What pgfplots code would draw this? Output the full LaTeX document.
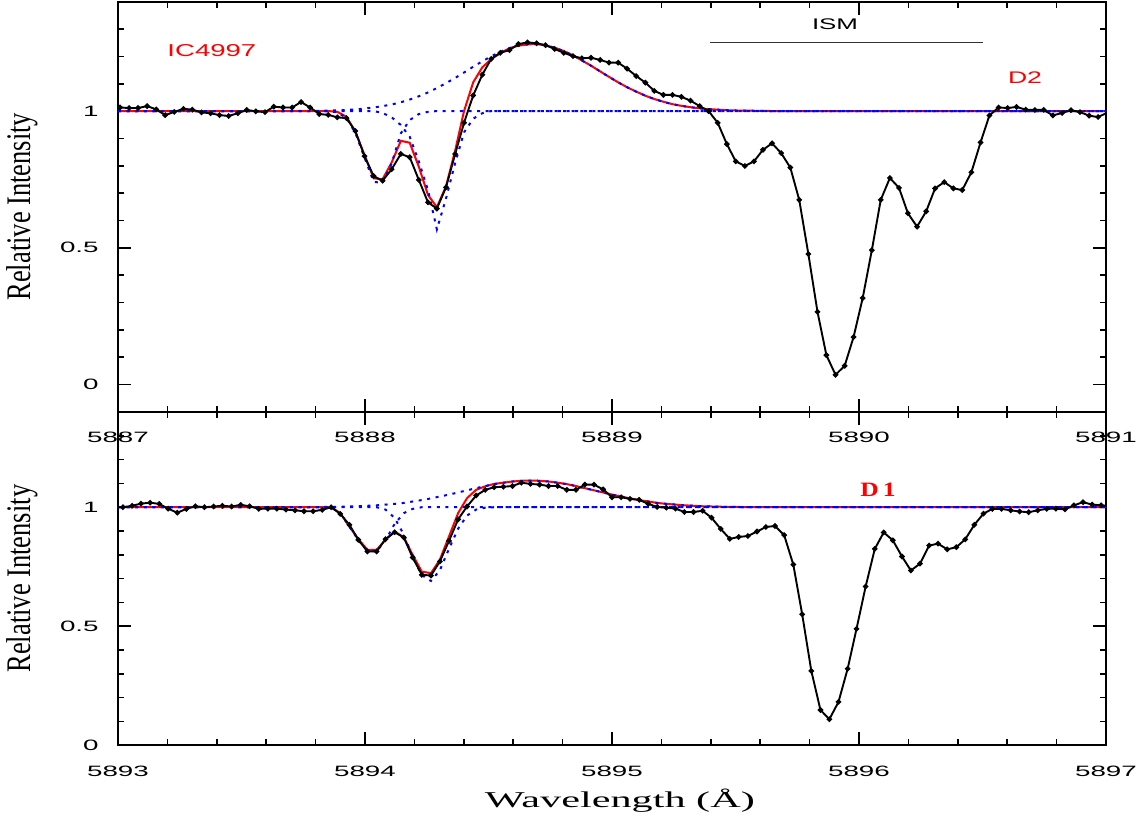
\documentclass[border=0pt]{standalone}
\usepackage{pgfplots}
\pgfplotsset{compat=1.18}
\usepackage{fontspec}
\setmainfont{Liberation Serif}
\newfontfamily\lsans{Liberation Sans}
\newcommand\tl[1]{\scalebox{1.85}[1]{\lsans\fontsize{7.5}{9}\selectfont #1}}
\pgfplotsset{
  panel/.style={
    scale only axis, width=494pt, anchor=north west,
    axis line style={line width=1pt},
    tick style={black, line width=0.8pt},
    tick align=inside,
    major tick length=6.5pt, minor tick length=3pt,
    ytick={0,0.5,1}, yticklabels={\tl{0},\tl{0.5},\tl{1}},
    minor ytick={-0.1,0.1,0.2,0.3,0.4,0.6,0.7,0.8,0.9,1.1,1.2,1.3},
    xticklabel style={anchor=center, inner sep=0pt, yshift=-13pt},
    yticklabel style={anchor=east, inner sep=0pt, xshift=-9.5pt},
    ylabel={\scalebox{1}[1.3]{\fontsize{13.25}{15}\selectfont Relative Intensity}},
    every axis y label/.style={at={(axis description cs:-0.0972,0.5)}, rotate=90, anchor=center},
    clip=true,
  },
  dat/.style={black, line width=0.95pt, mark=*, mark size=0.85pt, mark options={solid}},
  fit/.style={red, line width=1pt},
  comp/.style={blue, line width=1pt, dash pattern=on 1.5pt off 2.8pt},
}
\begin{document}
\begin{tikzpicture}
\useasboundingbox (-59pt,-408pt) rectangle (514pt,0pt);
% ---------------- top panel (D2) ----------------
\begin{axis}[panel, at={(0pt,-0.85pt)}, height=205pt,
  xmin=5887, xmax=5891, ymin=-0.1, ymax=1.4,
  xtick={5887,5888,5889,5890,5891},
  xticklabels={\tl{5887},\tl{5888},\tl{5889},\tl{5890},\tl{5891}},
  minor xtick={5887.2,5887.4,5887.6,5887.8,5888.2,5888.4,5888.6,5888.8,5889.2,5889.4,5889.6,5889.8,5890.2,5890.4,5890.6,5890.8},
]
% total fit
\addplot[fit] coordinates {
(5887,1) (5887.851,1.000) (5887.888,0.997) (5887.925,0.979) (5887.961,0.924) (5887.998,0.839)
(5888.035,0.754) (5888.071,0.750) (5888.108,0.812) (5888.145,0.891) (5888.181,0.884) (5888.218,0.796)
(5888.255,0.693) (5888.291,0.648) (5888.328,0.725) (5888.365,0.855) (5888.401,1.000) (5888.438,1.105)
(5888.475,1.160) (5888.511,1.190) (5888.548,1.212) (5888.585,1.230) (5888.621,1.239) (5888.658,1.244)
(5888.695,1.245) (5888.731,1.240) (5888.768,1.232) (5888.805,1.219) (5888.842,1.204) (5888.878,1.185)
(5888.915,1.166) (5888.952,1.145) (5888.988,1.125) (5889.025,1.105) (5889.061,1.087) (5889.098,1.071)
(5889.135,1.056) (5889.171,1.044) (5889.208,1.034) (5889.245,1.025) (5889.281,1.019) (5889.318,1.014)
(5889.355,1.010) (5889.391,1.007) (5889.428,1.005) (5889.465,1.003) (5889.501,1.002) (5889.575,1.001)
(5889.648,1.000) (5891,1)
};
% emission component
\addplot[comp] coordinates {
(5887,1) (5887.668,1.000) (5887.741,1.0005) (5887.815,1.001) (5887.888,1.003) (5887.925,1.004)
(5887.961,1.006) (5887.998,1.009) (5888.035,1.013) (5888.071,1.018) (5888.108,1.024) (5888.145,1.032)
(5888.181,1.042) (5888.218,1.054) (5888.255,1.068) (5888.291,1.084) (5888.328,1.102) (5888.365,1.121)
(5888.401,1.141) (5888.438,1.162) (5888.475,1.182) (5888.511,1.200) (5888.548,1.217) (5888.585,1.230)
(5888.621,1.239) (5888.658,1.244) (5888.695,1.245) (5888.731,1.240) (5888.768,1.232) (5888.805,1.219)
(5888.842,1.204) (5888.878,1.185) (5888.915,1.166) (5888.952,1.145) (5888.988,1.125) (5889.025,1.105)
(5889.061,1.087) (5889.098,1.071) (5889.135,1.056) (5889.171,1.044) (5889.208,1.034) (5889.245,1.025)
(5889.281,1.019) (5889.318,1.014) (5889.355,1.010) (5889.391,1.007) (5889.428,1.005) (5889.465,1.003)
(5889.501,1.002) (5889.575,1.001) (5889.648,1.000) (5891,1)
};
% absorption component 1
\addplot[comp] coordinates {
(5887,1) (5887.851,1.000) (5887.888,0.995) (5887.925,0.975) (5887.961,0.920) (5887.998,0.830)
(5888.035,0.741) (5888.071,0.737) (5888.108,0.809) (5888.145,0.918) (5888.181,0.967) (5888.218,0.989)
(5888.255,0.997) (5888.291,1.000) (5891,1)
};
% absorption component 2
\addplot[comp] coordinates {
(5887,1) (5888.035,1.000) (5888.071,0.993) (5888.108,0.977) (5888.145,0.949) (5888.181,0.906)
(5888.218,0.815) (5888.255,0.711) (5888.291,0.567) (5888.328,0.680) (5888.365,0.810) (5888.401,0.922)
(5888.438,0.972) (5888.475,0.992) (5888.511,1.000) (5891,1)
};
% observed spectrum
\addplot[dat] coordinates {
(5887.008,1.013) (5887.045,1.011) (5887.081,1.011) (5887.118,1.018) (5887.155,1.006) (5887.191,0.985)
(5887.228,0.997) (5887.265,1.008) (5887.301,1.005) (5887.338,0.995) (5887.375,0.992) (5887.411,0.985)
(5887.448,0.982) (5887.485,0.992) (5887.521,1.004) (5887.558,0.999) (5887.595,0.996) (5887.631,1.016)
(5887.668,1.013) (5887.705,1.013) (5887.741,1.033) (5887.778,1.013) (5887.815,0.989) (5887.851,0.986)
(5887.888,0.977) (5887.925,0.974) (5887.961,0.927) (5887.998,0.835) (5888.035,0.762) (5888.071,0.745)
(5888.108,0.787) (5888.145,0.843) (5888.181,0.831) (5888.218,0.748) (5888.255,0.666) (5888.291,0.643)
(5888.328,0.721) (5888.365,0.843) (5888.401,0.957) (5888.438,1.057) (5888.475,1.133) (5888.511,1.191)
(5888.548,1.213) (5888.585,1.223) (5888.621,1.245) (5888.658,1.251) (5888.695,1.248) (5888.731,1.241)
(5888.768,1.227) (5888.805,1.213) (5888.842,1.201) (5888.878,1.193) (5888.915,1.195) (5888.952,1.187)
(5888.988,1.177) (5889.025,1.177) (5889.061,1.155) (5889.098,1.128) (5889.135,1.104) (5889.171,1.074)
(5889.208,1.059) (5889.245,1.059) (5889.281,1.052) (5889.318,1.038) (5889.355,1.018) (5889.391,1.000)
(5889.428,0.957) (5889.465,0.879) (5889.501,0.816) (5889.538,0.799) (5889.575,0.816) (5889.611,0.858)
(5889.648,0.882) (5889.685,0.846) (5889.722,0.793) (5889.758,0.675) (5889.795,0.477) (5889.832,0.265)
(5889.868,0.107) (5889.905,0.035) (5889.942,0.068) (5889.978,0.173) (5890.015,0.316) (5890.052,0.491)
(5890.088,0.675) (5890.125,0.755) (5890.162,0.719) (5890.198,0.626) (5890.235,0.577) (5890.272,0.633)
(5890.308,0.717) (5890.345,0.740) (5890.382,0.717) (5890.418,0.711) (5890.455,0.776) (5890.492,0.885)
(5890.528,0.984) (5890.565,1.013) (5890.602,1.011) (5890.638,1.015) (5890.675,1.005) (5890.712,1.004)
(5890.748,1.004) (5890.785,0.984) (5890.822,0.993) (5890.858,1.003) (5890.895,0.996) (5890.932,0.983)
(5890.968,0.978) (5891.005,0.994)
};
% ISM bar
\addplot[black!80, line width=0.6pt] coordinates {(5889.397,1.251) (5890.502,1.251)};
\node[text=red] at (axis cs:5887.38,1.22) {\scalebox{1.6}[1]{\lsans\fontsize{8.6}{10}\selectfont IC4997}};
\node at (axis cs:5889.903,1.318) {\scalebox{1.68}[1]{\lsans\fontsize{7.7}{9}\selectfont ISM}};
\node[text=red] at (axis cs:5890.672,1.121) {\scalebox{1.58}[1]{\lsans\fontsize{8.4}{10}\selectfont D2}};
\end{axis}
% ---------------- bottom panel (D1) ----------------
\begin{axis}[panel, at={(0pt,-206pt)}, height=166.6pt,
  xmin=5893, xmax=5897, ymin=0, ymax=1.4,
  xtick={5893,5894,5895,5896,5897},
  xticklabels={\tl{5893},\tl{5894},\tl{5895},\tl{5896},\tl{5897}},
  minor xtick={5893.2,5893.4,5893.6,5893.8,5894.2,5894.4,5894.6,5894.8,5895.2,5895.4,5895.6,5895.8,5896.2,5896.4,5896.6,5896.8},
  xlabel={\scalebox{1.87}[1]{\fontsize{11.3}{13}\selectfont Wavelength (Å)}},
  every axis x label/.style={at={(axis description cs:0.508,-0.1675)}, anchor=center},
]
\addplot[fit] coordinates {
(5893,1) (5893.863,1.000) (5893.900,0.975) (5893.937,0.918) (5893.973,0.866) (5894.010,0.821)
(5894.047,0.821) (5894.083,0.863) (5894.120,0.898) (5894.157,0.874) (5894.193,0.800) (5894.230,0.729)
(5894.267,0.723) (5894.303,0.779) (5894.340,0.877) (5894.377,0.975) (5894.413,1.038) (5894.450,1.073)
(5894.487,1.088) (5894.523,1.098) (5894.560,1.103) (5894.597,1.108) (5894.633,1.111) (5894.670,1.112)
(5894.707,1.111) (5894.743,1.108) (5894.780,1.103) (5894.817,1.097) (5894.854,1.089) (5894.890,1.080)
(5894.927,1.071) (5894.964,1.062) (5895.000,1.053) (5895.037,1.045) (5895.073,1.037) (5895.110,1.030)
(5895.147,1.024) (5895.183,1.018) (5895.220,1.014) (5895.257,1.011) (5895.293,1.008) (5895.330,1.006)
(5895.367,1.004) (5895.403,1.003) (5895.440,1.002) (5895.513,1.001) (5895.587,1.000) (5897,1)
};
\addplot[comp] coordinates {
(5893,1) (5893.680,1.000) (5893.753,1.0004) (5893.827,1.001) (5893.863,1.0013) (5893.900,1.002)
(5893.937,1.003) (5893.973,1.004) (5894.010,1.006) (5894.047,1.008) (5894.083,1.011) (5894.120,1.014)
(5894.157,1.018) (5894.193,1.024) (5894.230,1.030) (5894.267,1.037) (5894.303,1.045) (5894.340,1.053)
(5894.377,1.062) (5894.413,1.071) (5894.450,1.080) (5894.487,1.089) (5894.523,1.097) (5894.560,1.103)
(5894.597,1.108) (5894.633,1.111) (5894.670,1.112) (5894.707,1.111) (5894.743,1.108) (5894.780,1.103)
(5894.817,1.097) (5894.854,1.089) (5894.890,1.080) (5894.927,1.071) (5894.964,1.062) (5895.000,1.053)
(5895.037,1.045) (5895.073,1.037) (5895.110,1.030) (5895.147,1.024) (5895.183,1.018) (5895.220,1.014)
(5895.257,1.011) (5895.293,1.008) (5895.330,1.006) (5895.367,1.004) (5895.403,1.003) (5895.440,1.002)
(5895.513,1.001) (5895.587,1.000) (5897,1)
};
\addplot[comp] coordinates {
(5893,1) (5893.863,1.000) (5893.900,0.975) (5893.937,0.918) (5893.973,0.862) (5894.010,0.815)
(5894.047,0.815) (5894.083,0.860) (5894.120,0.930) (5894.157,0.975) (5894.193,0.993) (5894.230,1.000)
(5897,1)
};
\addplot[comp] coordinates {
(5893,1) (5894.047,1.000) (5894.083,0.990) (5894.120,0.955) (5894.157,0.885) (5894.193,0.790)
(5894.230,0.715) (5894.267,0.690) (5894.303,0.735) (5894.340,0.825) (5894.377,0.910) (5894.413,0.965)
(5894.450,0.990) (5894.487,0.998) (5894.523,1.000) (5897,1)
};
\addplot[dat] coordinates {
(5892.983,1.000)
(5893.020,1.000) (5893.057,1.006) (5893.093,1.015) (5893.130,1.019) (5893.167,1.014) (5893.203,0.994)
(5893.240,0.977) (5893.277,0.993) (5893.313,1.004) (5893.350,1.000) (5893.387,1.003) (5893.423,1.006)
(5893.460,1.003) (5893.497,1.010) (5893.533,1.004) (5893.570,0.993) (5893.607,0.994) (5893.643,0.994)
(5893.680,0.990) (5893.717,0.987) (5893.753,0.983) (5893.790,0.983) (5893.827,0.989) (5893.863,1.000)
(5893.900,0.972) (5893.937,0.926) (5893.973,0.863) (5894.010,0.814) (5894.047,0.814) (5894.083,0.866)
(5894.120,0.895) (5894.157,0.873) (5894.193,0.789) (5894.230,0.716) (5894.267,0.713) (5894.303,0.772)
(5894.340,0.858) (5894.377,0.949) (5894.413,1.003) (5894.450,1.049) (5894.487,1.073) (5894.523,1.084)
(5894.560,1.086) (5894.597,1.089) (5894.633,1.103) (5894.670,1.098) (5894.707,1.095) (5894.743,1.089)
(5894.780,1.089) (5894.817,1.073) (5894.854,1.073) (5894.890,1.095) (5894.927,1.095) (5894.964,1.075)
(5895.000,1.042) (5895.037,1.042) (5895.073,1.035) (5895.110,1.031) (5895.147,1.014) (5895.183,1.001)
(5895.220,0.998) (5895.257,0.994) (5895.293,0.980) (5895.330,0.980) (5895.367,0.985) (5895.403,0.956)
(5895.440,0.909) (5895.477,0.867) (5895.513,0.875) (5895.550,0.879) (5895.587,0.898) (5895.623,0.917)
(5895.660,0.921) (5895.697,0.883) (5895.734,0.759) (5895.770,0.550) (5895.807,0.312) (5895.844,0.148)
(5895.880,0.109) (5895.917,0.182) (5895.954,0.321) (5895.990,0.489) (5896.027,0.667) (5896.064,0.825)
(5896.100,0.894) (5896.137,0.861) (5896.174,0.793) (5896.210,0.734) (5896.247,0.763) (5896.284,0.839)
(5896.320,0.847) (5896.357,0.823) (5896.394,0.832) (5896.430,0.865) (5896.467,0.926) (5896.504,0.973)
(5896.540,0.993) (5896.577,0.993) (5896.614,0.987) (5896.650,0.982) (5896.687,0.979) (5896.724,0.987)
(5896.760,0.993) (5896.797,0.994) (5896.834,0.991) (5896.870,1.008) (5896.907,1.021) (5896.944,1.011)
(5896.980,1.008) (5897.017,1.005)
};
\node[text=red] at (axis cs:5896.077,1.073) {\scalebox{1.25}[1]{\fontsize{10.2}{12}\selectfont\bfseries D\,1}};
\end{axis}
\end{tikzpicture}
\end{document}
